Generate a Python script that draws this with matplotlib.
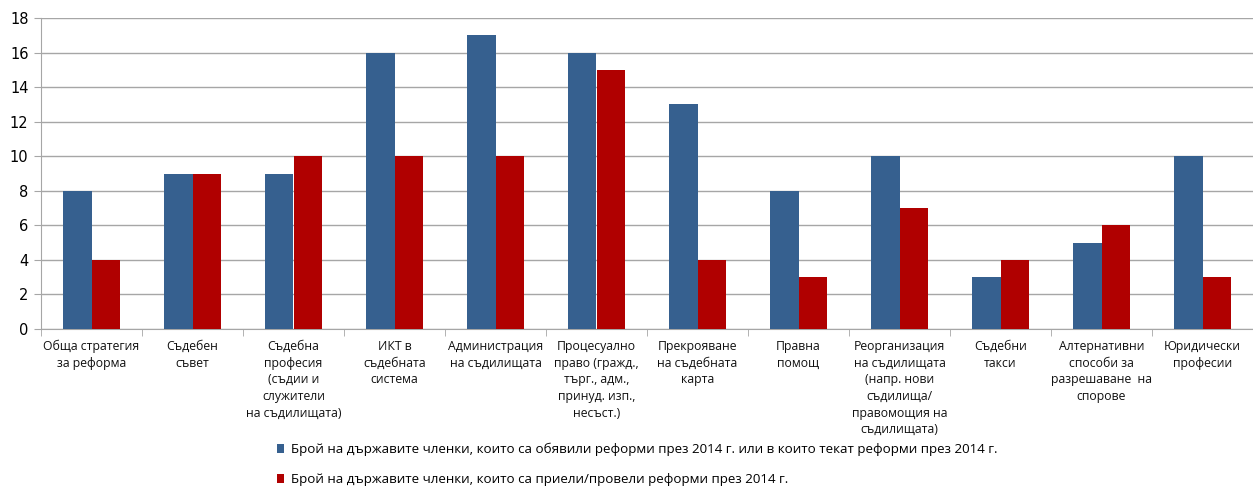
import numpy as np
import matplotlib.pyplot as plt
import matplotlib as mpl

mpl.rcParams.update({
    "font.family": ["Open Sans", "DejaVu Sans"],
})

categories = [
    "Обща стратегия\nза реформа",
    "Съдебен\nсъвет",
    "Съдебна\nпрофесия\n(съдии и\nслужители\nна съдилищата)",
    "ИКТ в\nсъдебната\nсистема",
    "Администрация\nна съдилищата",
    "Процесуално\nправо (гражд.,\nтърг., адм.,\nпринуд. изп.,\nнесъст.)",
    "Прекрояване\nна съдебната\nкарта",
    "Правна\nпомощ",
    "Реорганизация\nна съдилищата\n(напр. нови\nсъдилища/\nправомощия на\nсъдилищата)",
    "Съдебни\nтакси",
    "Алтернативни\nспособи за\nразрешаване  на\nспорове",
    "Юридически\nпрофесии",
]
announced = [8, 9, 9, 16, 17, 16, 13, 8, 10, 3, 5, 10]
adopted = [4, 9, 10, 10, 10, 15, 4, 3, 7, 4, 6, 3]

label_announced = "Брой на държавите членки, които са обявили реформи през 2014 г. или в които текат реформи през 2014 г."
label_adopted = "Брой на държавите членки, които са приели/провели реформи през 2014 г."

blue = "#36608F"
red = "#B00000"

fig = plt.figure(figsize=(12.53, 4.86), dpi=100)
ax = fig.add_axes([41 / 1253, 157 / 486, 1 - 41 / 1253, (329 - 18) / 486])

x = np.arange(len(categories))
w = 0.285
ax.bar(x - w / 2, announced, w, color=blue, label=label_announced, zorder=3)
ax.bar(x + w / 2, adopted, w, color=red, label=label_adopted, zorder=3)

ax.set_xlim(-0.5, len(categories) - 0.5)
ax.set_ylim(0, 18)
ax.set_yticks(range(0, 19, 2))
ax.yaxis.grid(True, color="#A6A6A6", linewidth=1, zorder=0)
ax.tick_params(axis="y", length=5, color="#A6A6A6", labelsize=10.5, pad=4)
for t in ax.get_yticklabels():
    t.set_family("DejaVu Sans")

ax.set_xticks(x)
ax.set_xticklabels(categories, fontsize=8.8, linespacing=1.36, va="top",
                   color="#111111")
ax.tick_params(axis="x", which="major", length=0, pad=8)
ax.set_xticks(np.arange(-0.5, len(categories)), minor=True)
ax.tick_params(axis="x", which="minor", length=5, color="#A6A6A6")

for s in ["top", "right"]:
    ax.spines[s].set_visible(False)
for s in ["left", "bottom"]:
    ax.spines[s].set_color("#A6A6A6")

fig.legend(loc="upper left", bbox_to_anchor=(270 / 1253, 1 - 436 / 486),
           frameon=False, fontsize=9.6, handlelength=0.55, handleheight=0.6,
           handletextpad=0.5, labelspacing=1.3, borderpad=0)

plt.savefig("out.png", dpi=100)
